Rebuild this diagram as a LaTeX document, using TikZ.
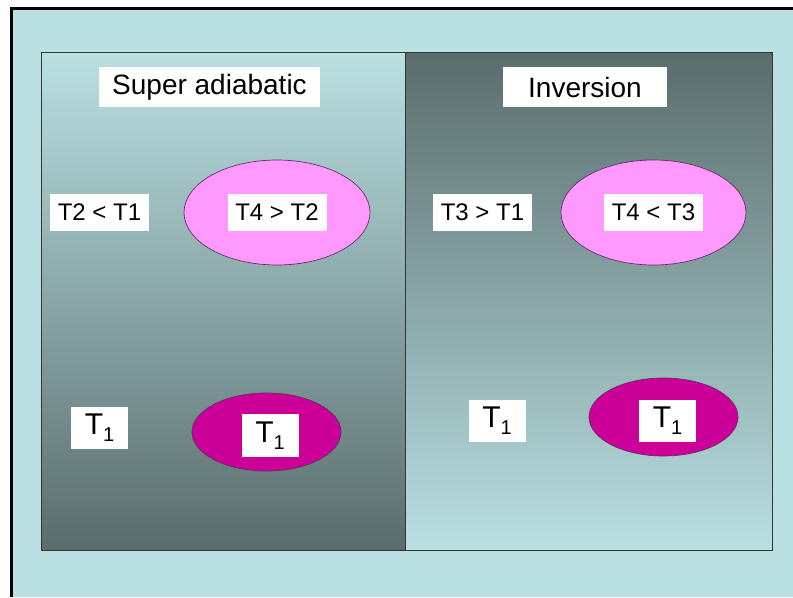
\documentclass[tikz,border=0pt]{standalone}
\usepackage{fontspec}
\setmainfont{Liberation Sans}
\usetikzlibrary{shapes.geometric}

\definecolor{skybg}{RGB}{186,224,226}
\definecolor{slate}{RGB}{90,108,108}
\definecolor{lightpink}{RGB}{255,153,255}
\definecolor{deepmag}{RGB}{204,0,153}
\definecolor{rimpurple}{RGB}{100,40,100}

\newcommand{\tsub}[1]{\raisebox{-0.45ex}{\fontsize{15}{15}\selectfont #1}}

\tikzset{
  tag/.style={fill=white, inner sep=0pt, text=black},
  titletag/.style={tag, minimum height=30pt, font=\fontsize{21}{24}\selectfont},
  cmptag/.style={tag, minimum width=74.25pt, minimum height=27.75pt, font=\fontsize{18}{21}\selectfont},
  ttag/.style={tag, minimum width=42.75pt, minimum height=31.5pt, font=\fontsize{22.5}{26}\selectfont},
  puff/.style={ellipse, draw=rimpurple, line width=0.5pt, inner sep=0pt},
}

\begin{document}
\begin{tikzpicture}[x=0.75pt,y=0.75pt,yscale=-1,xscale=1]
    \useasboundingbox (0,0) rectangle (793,597);
    \fill[white] (0,0) rectangle (793,597);

    %Outer frame
    \fill[skybg] (11,8) rectangle (793,597);
    \draw[line width=2.25pt] (11,597) -- (11,8) -- (793,8);

    %Left panel (light at top, dark at bottom)
    \shade[top color=skybg, bottom color=slate] (41,52) rectangle (405,550);
    %Right panel (dark at top, light at bottom)
    \shade[top color=slate, bottom color=skybg] (405,52) rectangle (772,550);
    \draw[line width=0.75pt, black!80] (41,52) rectangle (772,550);
    \draw[line width=0.75pt, black!80] (405,52) -- (405,550);

    %Ellipses
    \node[puff, fill=lightpink, minimum width=139.5pt, minimum height=78.75pt] (warmL) at (277,212.5) {};
    \node[puff, fill=lightpink, minimum width=138.75pt, minimum height=78.75pt] (warmR) at (653.5,212.5) {};
    \node[puff, fill=deepmag, minimum width=111.75pt, minimum height=58.5pt] (baseL) at (266.5,432) {};
    \node[puff, fill=deepmag, minimum width=111.75pt, minimum height=58.5pt] (baseR) at (663.5,417) {};

    % Text Node
    \node[titletag, minimum width=165.75pt] (superad) at (209.5,87) {Super adiabatic};
    % Text Node
    \node[titletag, minimum width=123pt] (invers) at (585,87) {Inversion};
    % Text Node
    \node[cmptag] (lapseL) at (99.5,212.5) {T2 < T1};
    % Text Node
    \node[cmptag] (parcelL) at (warmL) {T4 > T2};
    % Text Node
    \node[cmptag] (lapseR) at (482.5,212.5) {T3 > T1};
    % Text Node
    \node[cmptag] (parcelR) at (warmR) {T4 < T3};
    % Text Node
    \node[ttag] (groundL) at (99.5,428) {T\tsub{1}};
    % Text Node
    \node[ttag, minimum height=32.25pt] (startL) at (270,435.5) {T\tsub{1}};
    % Text Node
    \node[ttag] (groundR) at (497,421) {T\tsub{1}};
    % Text Node
    \node[ttag] (startR) at (667.5,421) {T\tsub{1}};

\end{tikzpicture}
\end{document}
